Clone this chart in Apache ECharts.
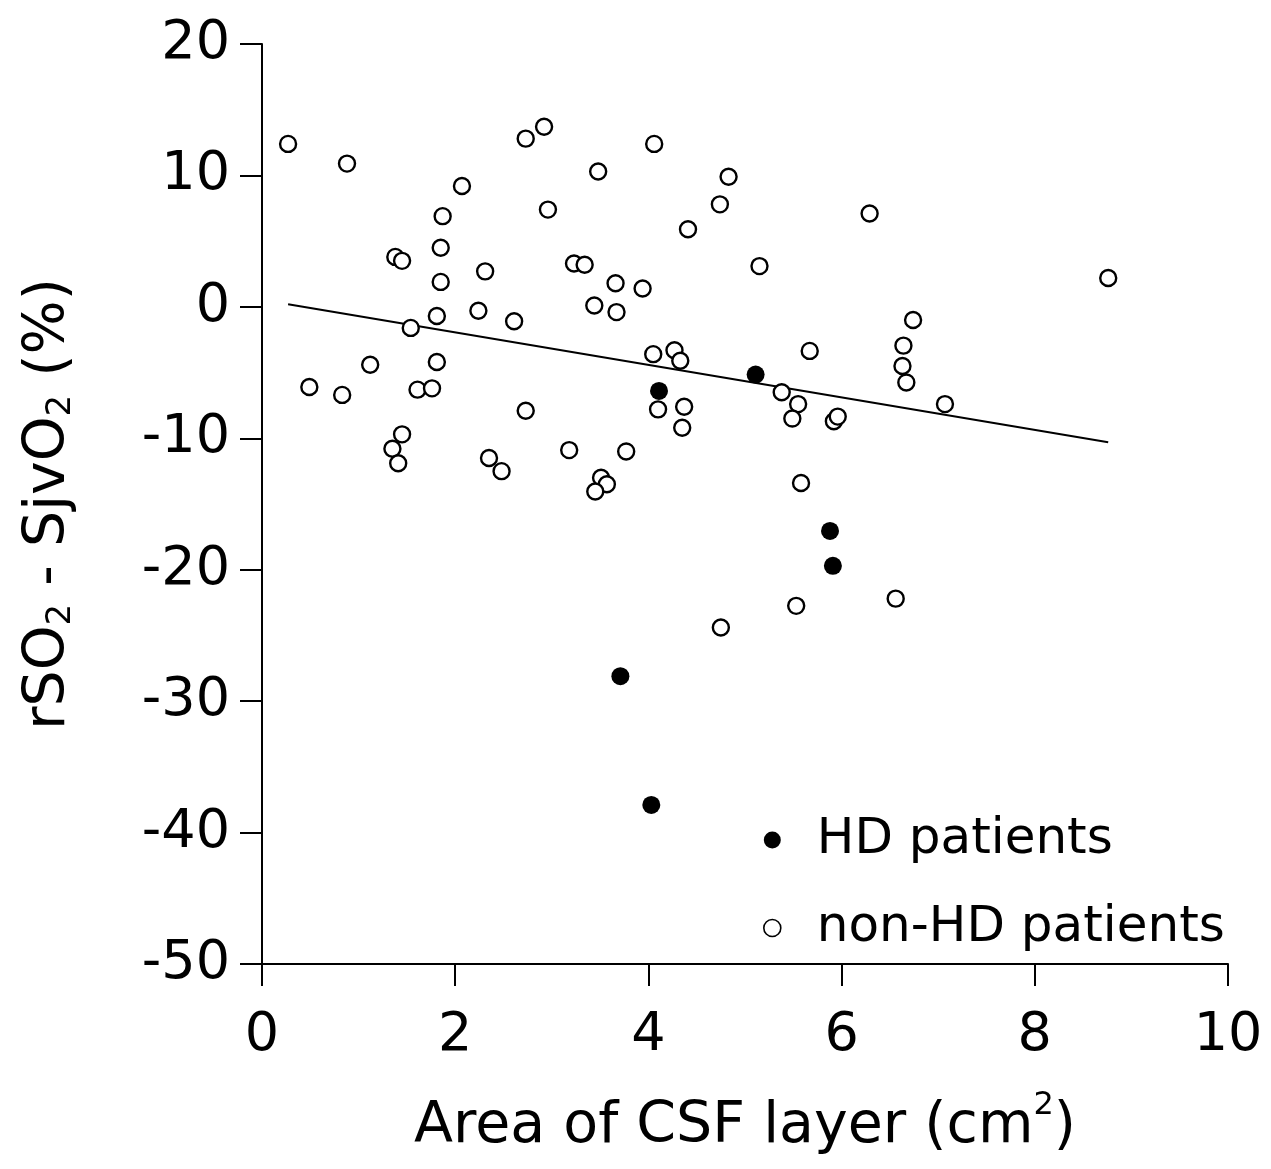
<!DOCTYPE html>
<html>
<head>
<meta charset="utf-8">
<script src="https://cdn.jsdelivr.net/npm/echarts@6/dist/echarts.min.js"></script>
<style>html,body{margin:0;padding:0;background:#fff}#c{width:1271px;height:1169px}</style>
</head>
<body>
<div id="c"></div>
<script>
// Non-HD patients: x = area of CSF layer (cm2), y = rSO2 - SjvO2 (%)
const nonHdX = [0.27,0.88,2.73,2.92,2.07,1.87,2.96,1.85,1.38,1.45,2.31,1.85,2.24,1.81,2.61,1.54,1.12,1.81,0.49,0.83,1.61,1.76,2.73,1.45,1.35,1.41,2.35,2.48,
  4.06,3.48,4.83,4.74,4.41,3.23,3.34,5.15,3.66,3.94,3.44,3.67,4.05,4.27,4.33,5.67,4.10,4.37,4.35,5.38,5.55,5.49,5.92,5.96,3.18,3.77,3.51,3.57,3.45,5.58,
  6.29,8.76,6.74,6.64,6.63,6.67,7.07,6.56,5.53,4.75];
const nonHdY = [12.4,10.9,12.8,13.7,9.2,6.9,7.4,4.5,3.8,3.5,2.7,1.9,-0.3,-0.7,-1.1,-1.6,-4.4,-4.2,-6.1,-6.7,-6.3,-6.2,-7.9,-9.7,-10.8,-11.9,-11.5,-12.5,
  12.4,10.3,9.9,7.8,5.9,3.3,3.2,3.1,1.8,1.4,0.1,-0.4,-3.6,-3.3,-4.1,-3.35,-7.8,-7.6,-9.2,-6.5,-7.4,-8.5,-8.7,-8.35,-10.9,-11.0,-13.0,-13.5,-14.05,-13.4,
  7.1,2.2,-1.0,-2.95,-4.5,-5.75,-7.4,-22.2,-22.75,-24.4];
// HD patients
const hdX = [4.11,5.11,5.88,5.91,3.71,4.03];
const hdY = [-6.4,-5.15,-17.05,-19.7,-28.1,-37.9];
// Regression line end points
const fitX = [0.27, 8.76];
const fitY = [0.2, -10.3];
// Axis ticks
const xTicks = [0,2,4,6,8,10];
const yTicks = [-50,-40,-30,-20,-10,0,10,20];

const zip = (a,b) => a.map((v,i)=>[v,b[i]]);
const FONT = '"DejaVu Sans", sans-serif';

const chart = echarts.init(document.getElementById('c'), null, {renderer:'canvas'});
chart.setOption({
  animation:false,
  backgroundColor:'#fff',
  grid:{left:262, right:43, top:44, bottom:205, containLabel:false},
  xAxis:{
    type:'value', min:xTicks[0], max:xTicks[xTicks.length-1], interval:2,
    axisLine:{show:true, onZero:false, lineStyle:{color:'#000', width:2}},
    axisTick:{show:true, inside:false, length:22, lineStyle:{color:'#000', width:2}},
    axisLabel:{color:'#000', fontSize:54, fontFamily:FONT, margin:45},
    splitLine:{show:false},
    name:'{a|Area of CSF layer (cm}{p|2}{a|)}',
    nameLocation:'middle', nameGap:126,
    nameTextStyle:{rich:{
      a:{fontSize:57, fontFamily:FONT, color:'#000', lineHeight:66, verticalAlign:'bottom'},
      p:{fontSize:32, fontFamily:FONT, color:'#000', lineHeight:66, verticalAlign:'top'}
    }}
  },
  yAxis:{
    type:'value', min:yTicks[0], max:yTicks[yTicks.length-1], interval:10,
    axisLine:{show:true, onZero:false, lineStyle:{color:'#000', width:2}},
    axisTick:{show:true, inside:false, length:22, lineStyle:{color:'#000', width:2}},
    axisLabel:{color:'#000', fontSize:54, fontFamily:FONT, margin:32},
    splitLine:{show:false},
    name:'{a|rSO}{s|2}{a| - SjvO}{s|2}{a| (%)}',
    nameLocation:'middle', nameGap:184, nameRotate:90,
    nameTextStyle:{rich:{
      a:{fontSize:57, fontFamily:FONT, color:'#000', lineHeight:66, verticalAlign:'bottom'},
      s:{fontSize:34, fontFamily:FONT, color:'#000', lineHeight:44, verticalAlign:'bottom'}
    }}
  },
  legend:{
    orient:'vertical', left:758, top:810, itemWidth:17, itemHeight:17, itemGap:38,
    textStyle:{fontSize:50, fontFamily:FONT, color:'#000', padding:[0,0,0,31], lineHeight:50},
    data:[
      {name:'HD patients', icon:'circle'},
      {name:'non-HD patients', icon:'circle', itemStyle:{color:'#fff', borderColor:'#000', borderWidth:1.6}}
    ]
  },
  series:[
    {type:'line', data:zip(fitX,fitY), symbol:'none', silent:true, lineStyle:{color:'#000', width:2}, z:1},
    {name:'non-HD patients', type:'scatter', data:zip(nonHdX,nonHdY), symbol:'circle', symbolSize:16,
      itemStyle:{color:'#fff', borderColor:'#000', borderWidth:2.4, opacity:1}, z:2},
    {name:'HD patients', type:'scatter', data:zip(hdX,hdY), symbol:'circle', symbolSize:18,
      itemStyle:{color:'#000', borderColor:'#000', borderWidth:0, opacity:1}, z:3}
  ]
});
</script>
</body>
</html>
